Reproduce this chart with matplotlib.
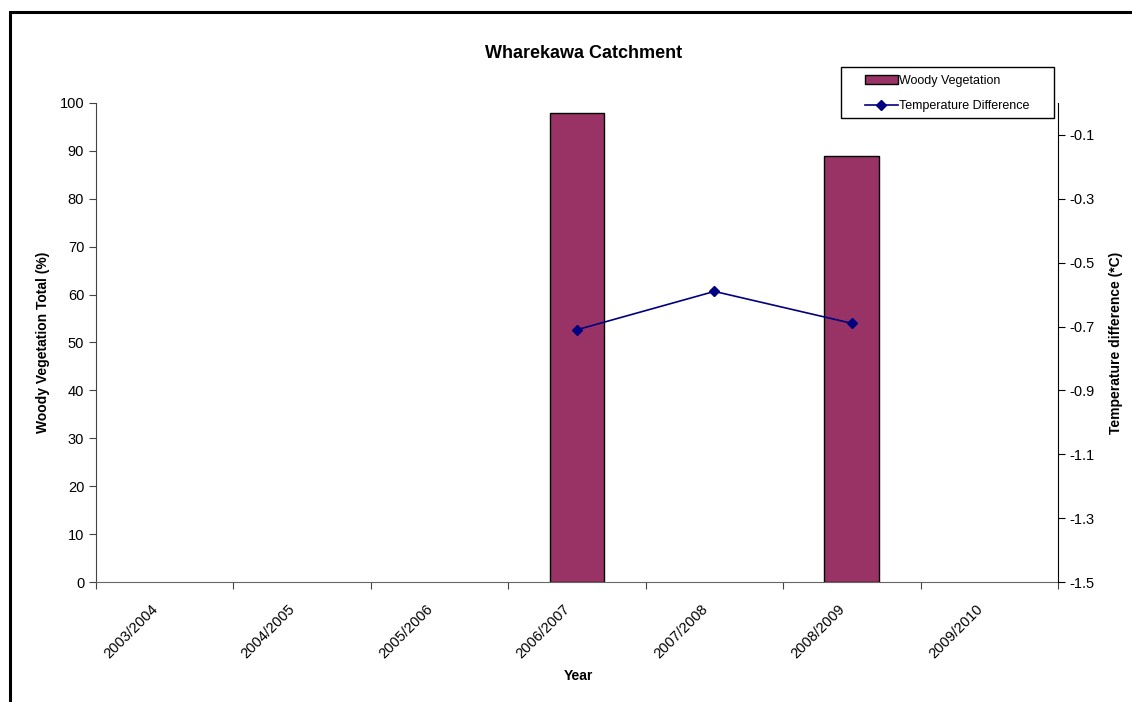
import matplotlib

matplotlib.use("Agg")

import matplotlib.pyplot as plt
import numpy as np
from matplotlib.lines import Line2D
from matplotlib.patches import Patch, Rectangle
from matplotlib.transforms import blended_transform_factory, offset_copy

plt.rcParams["font.family"] = ["Liberation Sans", "DejaVu Sans"]

years = ["2003/2004", "2004/2005", "2005/2006", "2006/2007", "2007/2008", "2008/2009", "2009/2010"]
woody_pct = [np.nan, np.nan, np.nan, 98, np.nan, 89, np.nan]
temp_diff = [np.nan, np.nan, np.nan, -0.71, -0.59, -0.69, np.nan]

BAR = "#993366"
LINE = "#000080"
W, H = 1132, 702

fig = plt.figure(figsize=(W / 100, H / 100), dpi=100)
ax = fig.add_axes([96 / W, 1 - 582 / H, (1058 - 96) / W, (582 - 103) / H])

# outer chart frame (only the left and top edges fall inside the image)
fig.patches.append(Rectangle((10 / W, -0.1), 1.2, 1 - 12 / H + 0.1,
                             transform=fig.transFigure, fill=False,
                             edgecolor="black", linewidth=2.2, zorder=0))

x = np.arange(len(years))
ax.bar(x, woody_pct, width=0.4, color=BAR, edgecolor="black", linewidth=1, zorder=2)
ax.set_xlim(-0.5, len(years) - 0.5)
ax.set_ylim(0, 100)
ax.set_yticks(np.arange(0, 101, 10))
ax.set_xticks(np.arange(len(years) + 1) - 0.5)
ax.set_xticklabels([])
ax.tick_params(axis="x", length=5, direction="out", color="#444444")
ax.tick_params(axis="y", length=5, direction="out", labelsize=10.5, color="#444444")

# rotated category labels, anchored just left of each category centre
lab_tf = offset_copy(blended_transform_factory(ax.transData, ax.transAxes),
                     fig=fig, x=-14, y=-20, units="dots")
for xi, name in zip(x, years):
    ax.text(xi, 0, name, transform=lab_tf, rotation=45, ha="right", va="top",
            rotation_mode="anchor", fontsize=10.5)

for side in ("top", "right"):
    ax.spines[side].set_visible(False)
ax.spines["left"].set_color("#444444")
ax.spines["bottom"].set_color("#666666")

ax2 = ax.twinx()
ax2.plot(x, temp_diff, color=LINE, linewidth=1.2, marker="D", markersize=5.5, zorder=3)
ax2.set_ylim(-1.5, 0.0)
ticks_r = np.arange(-1.5, -0.05, 0.2)
ax2.set_yticks(ticks_r)
ax2.set_yticklabels([f"{v:.1f}" for v in ticks_r])
ax2.tick_params(axis="y", length=5, direction="out", labelsize=10.5)
for side in ("top", "left", "bottom"):
    ax2.spines[side].set_visible(False)

fig.text(578 / W, 1 - 676 / H, "Year", fontsize=10, fontweight="bold",
         ha="center", va="center")
ax.set_ylabel("Woody Vegetation Total (%)", fontsize=10, fontweight="bold", labelpad=7)
ax2.set_ylabel("Temperature difference (*C)", fontsize=10, fontweight="bold", labelpad=10)
fig.text(584 / W, 1 - 53 / H, "Wharekawa Catchment", fontsize=13,
         fontweight="bold", ha="center", va="center")

# legend box
fig.patches.append(Rectangle((841 / W, 1 - 118 / H), (1054 - 841) / W, (118 - 67) / H,
                             transform=fig.transFigure, fill=False,
                             edgecolor="black", linewidth=1, zorder=5))
handles = [
    Patch(facecolor=BAR, edgecolor="black", linewidth=1),
    Line2D([], [], color=LINE, marker="D", markersize=5, linewidth=1.2),
]
fig.legend(handles, ["Woody Vegetation", "Temperature Difference"],
           loc="upper left", bbox_to_anchor=(865 / W, 1 - 75 / H),
           fontsize=9, frameon=False, borderpad=0,
           handlelength=2.6, handletextpad=0.1, labelspacing=1.05,
           borderaxespad=0)

fig.savefig("out.png", dpi=100)
